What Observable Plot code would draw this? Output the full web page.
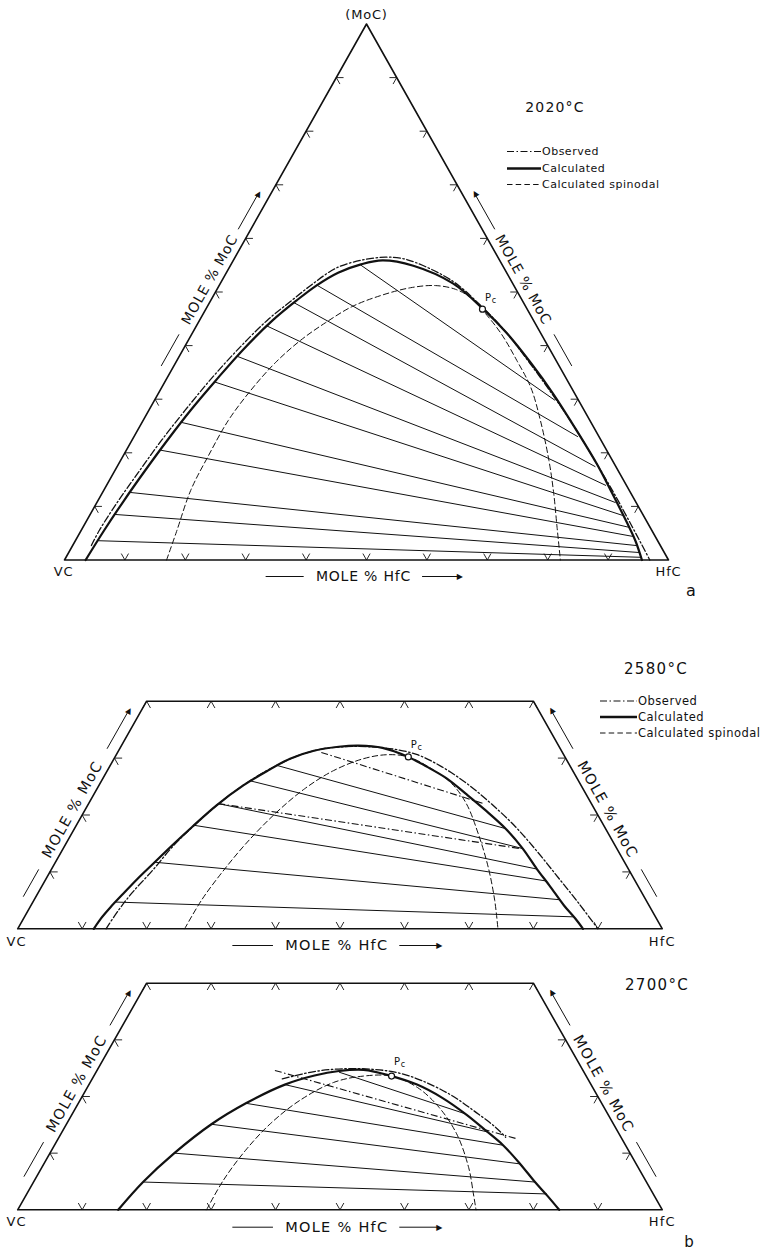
<!DOCTYPE html>
<html><head><meta charset="utf-8">
<script src="https://cdn.jsdelivr.net/npm/d3@7"></script>
<script src="https://cdn.jsdelivr.net/npm/@observablehq/plot@0.6"></script>
<style>
body{margin:0;background:#fff;}
#page{position:relative;width:765px;height:1254px;overflow:hidden;font-family:"DejaVu Sans",sans-serif;color:#111;background:#fff;}
.panel{position:absolute;left:0;}
.t{position:absolute;white-space:nowrap;transform:translate(-50%,-50%);}
.lg{position:absolute;white-space:nowrap;transform:translateY(-50%);display:flex;align-items:center;font-size:11px;letter-spacing:0.5px;}
.lg svg{display:block;margin-right:1px;}
</style></head><body><div id="page"></div>
<script>
// ---------- DATA: compositions as [mole % HfC, mole % MoC] ----------
// 2020 °C
const calc2020 = [[3.5,0],[3.8,5.5],[4.3,11.1],[5.0,16.7],[5.85,22.3],[6.9,27.9],[8.3,33.5],[9.9,39.1],[12.1,44.7],[14.2,48.4],[16.1,51.2],[18.5,53.6],[21.4,55.1],[24.7,55.9],[30.3,54.9],[38.5,51.6],[45.8,46.9],[52.1,42.3],[58.9,36.7],[65.3,31.1],[71.3,25.5],[79.1,18.0],[84.5,12.4],[89.8,6.8],[92.8,3.5],[95.6,0]];
const obs2020 = [[3.1,2.7],[3.0,5.5],[3.4,11.1],[4.1,16.7],[4.9,22.3],[6.0,27.9],[7.3,33.5],[9.0,39.1],[11.2,44.7],[13.4,48.4],[15.4,51.6],[17.8,54.5],[21.4,56.0],[24.9,56.5],[27.5,56.3],[30.4,55.5],[38.3,52.0],[45.7,47.1],[52.1,42.3],[58.7,36.7],[65.1,31.1],[71.5,25.3],[79.1,18.0],[85.0,12.2],[90.7,6.4],[94.3,2.7],[96.9,0]];
const spin2020 = [[16.9,0],[15.9,5.3],[14.4,13.0],[14.1,19.5],[14.1,26.0],[15.0,31.6],[16.5,36.8],[18.6,41.0],[21.1,44.3],[24.0,47.3],[27.6,49.3],[31.9,50.8],[35.8,51.2],[39.5,50.5],[42.7,49.0],[45.8,46.7],[51.1,42.3],[56.3,37.2],[61.1,32.2],[65.8,26.0],[70.9,18.6],[74.8,12.4],[78.5,6.1],[82.1,0]];
const tieL2020 = [[21.4,55.1],[16.1,51.3],[14.0,48.0],[11.6,43.7],[9.6,38.0],[8.3,33.2],[6.4,25.7],[5.6,20.5],[4.6,12.6],[4.1,8.5],[3.8,3.6]];
const tieR2020 = [[66.3,29.8],[73.5,23.0],[79.2,17.4],[82.7,13.9],[85.9,10.7],[88.3,8.3],[90.4,6.1],[91.9,4.4],[93.3,2.7],[94.4,1.4],[95.3,0.5]];
const pc2020 = [45.8,46.8];

// 2580 °C
const calc2580 = [[11.8,0],[12.0,1.8],[12.5,3.8],[13.3,6.2],[14.2,8.8],[15.4,11.7],[16.6,14.6],[18.1,17.9],[20.0,21.7],[22.4,25.2],[24.9,27.8],[27.3,29.9],[30.3,31.3],[33.8,32.0],[36.8,32.2],[40.7,31.8],[45.5,30.2],[49.2,28.5],[53.4,26.4],[57.7,23.7],[62.2,20.8],[66.9,17.6],[71.3,14.1],[75.3,10.5],[78.7,7.6],[82.7,4.1],[85.6,1.8],[87.7,0]];
const obs2580 = [[13.7,0],[14.0,3.2],[14.6,6.4],[15.8,10.3],[16.8,14.4],[18.3,18.2],[20.2,22.0],[22.6,25.5],[25.1,28.1],[27.9,30.2],[31.0,31.5],[34.6,32.0],[38.4,32.0],[42.4,31.6],[46.7,30.6],[51.5,28.5],[56.8,25.6],[62.3,22.1],[68.3,17.9],[73.9,13.5],[79.6,8.8],[84.9,4.4],[90.0,0]];
const spin2580 = [[25.9,0],[26.0,5.0],[26.7,9.7],[27.9,14.9],[29.8,20.2],[32.2,24.6],[35.1,27.8],[38.7,29.9],[42.1,30.6],[45.5,30.2],[50.2,28.1],[54.6,25.5],[58.6,22.0],[63.1,16.7],[67.6,10.8],[71.5,5.0],[74.5,0]];
const tieL2580 = [[25.9,28.7],[23.1,26.0],[20.1,22.0],[18.2,18.2],[15.4,11.7],[12.8,4.7]];
const tieR2580 = [[66.9,17.6],[71.3,14.1],[75.3,10.5],[77.8,8.4],[81.6,5.1],[85.2,2.1]];
const obsTieL2580 = [[31.6,31.0],[20.1,22.0]];
const obsTieR2580 = [[61.3,22.0],[70.9,14.1]];
const pc2580 = [45.5,30.2];

// 2700 °C
const calc2700 = [[15.6,0],[17.0,4.9],[19.3,10.0],[22.5,15.1],[26.0,18.8],[30.4,22.1],[34.2,23.7],[37.6,24.5],[41.3,24.7],[46.2,23.6],[50.9,22.1],[55.9,19.8],[61.2,16.8],[65.6,14.0],[69.6,11.4],[73.9,8.1],[77.8,4.9],[80.9,2.5],[84.0,0]];
const obs2700 = [[29.5,23.1],[33.8,24.4],[38.1,24.9],[42.7,24.8],[46.8,24.2],[51.3,22.8],[57.2,20.2],[62.5,17.2],[66.8,14.6],[69.3,12.8]];
const spin2700 = [[29.3,0],[29.3,5.2],[30.1,10.5],[31.6,15.2],[34.1,19.3],[37.8,22.5],[41.8,23.6],[46.2,23.6],[51.2,21.6],[56.3,18.1],[61.4,13.4],[66.2,7.5],[69.3,2.8],[71.1,0]];
const tieL2700 = [[37.7,24.3],[30.4,22.1],[26.0,18.8],[22.5,15.1],[19.3,10.0],[17.0,4.9]];
const tieR2700 = [[61.1,16.9],[66.2,13.7],[69.6,11.4],[73.9,8.1],[77.8,4.9],[80.7,2.8]];
const obsTieL2700 = [[27.6,24.6]];
const obsTieR2700 = [[71.3,12.5]];
const pc2700 = [46.2,23.6];

// frame corners and tick positions (mole %)
const triangleCorners = [[0,0],[100,0],[0,100],[0,0]];
const trapezoidCorners = [[0,0],[100,0],[60,40],[0,40],[0,0]];
const ticks10 = [10,20,30,40,50,60,70,80,90];
const ticksSide40 = [10,20,30];
const ticksTop40 = [0,10,20,30,40,50,60];

// ---------- helpers ----------
const cart = ([h, m]) => ({x: (h + m / 2) / 100, y: m / 100});
const D = 1.2; // tick arm (mole %)
function tickLinks(bottom, left, right, top) {
  const out = [];
  const add = (a, b) => { const p = cart(a), q = cart(b); out.push({x1:p.x, y1:p.y, x2:q.x, y2:q.y}); };
  for (const t of bottom) { add([t,0],[t,D]); add([t,0],[t-D,D]); }
  for (const t of left) { add([0,t],[D,t]); add([0,t],[D,t-D]); }
  for (const t of right) { add([100-t,t],[100-t-D,t]); add([100-t,t],[100-t,t-D]); }
  for (const h of top || []) { add([h,40],[h,40-D]); add([h,40],[h+D,40-D]); }
  return out;
}
const pairs = (L, R) => L.map((a, i) => { const p = cart(a), q = cart(R[i]); return {x1:p.x, y1:p.y, x2:q.x, y2:q.y}; });
const edgePt = (side, s) => side === "L" ? {x: s/2, y: s} : {x: 1 - s/2, y: s};
const ANG = 60.8;
const nL = [-Math.cos((90-ANG)*Math.PI/180), -Math.sin((90-ANG)*Math.PI/180)];
const nR = [-nL[0], nL[1]];

const DASHDOT = "7,2.5,1.5,2.5";
const DASH = "5.5,3.2";

function sideLabel(side, lab) {
  const n = side === "L" ? nL : nR;
  const dx = lab.off * n[0], dy = lab.off * n[1];
  const links = [[lab.tail, lab.l1], [lab.l2, lab.head]].map(([a, b]) => {
    const p = edgePt(side, a), q = edgePt(side, b);
    return {x1:p.x, y1:p.y, x2:q.x, y2:q.y};
  });
  const rot = side === "L" ? -ANG : ANG;
  return [
    Plot.link(links, {x1:"x1", y1:"y1", x2:"x2", y2:"y2", stroke:"#111", strokeWidth:1, dx, dy}),
    Plot.text([edgePt(side, lab.tc)], {x:"x", y:"y", text: () => "MOLE % MoC", rotate: rot, fontSize: lab.fs, fill:"#111", dx, dy}),
    Plot.text([edgePt(side, lab.head)], {x:"x", y:"y", text: () => "\u25B6", rotate: side === "L" ? -ANG : -(180-ANG), fontSize: 8, fill:"#111", dx, dy})
  ];
}
function bottomLabel(off, fs) {
  return [
    Plot.link([{x1:0.333, x2:0.396}, {x1:0.592, x2:0.652}], {x1:"x1", x2:"x2", y1:() => 0, y2:() => 0, stroke:"#111", strokeWidth:1, dy: off}),
    Plot.text([{x:0.495, y:0}], {x:"x", y:"y", text:() => "MOLE % HfC", fontSize: fs, fill:"#111", dy: off}),
    Plot.text([{x:0.655, y:0}], {x:"x", y:"y", text:() => "\u25B6", fontSize: 8, fill:"#111", dy: off})
  ];
}

function panel(cfg) {
  const marks = [
    Plot.line(cfg.corners.map(cart), {x:"x", y:"y", stroke:"#111", strokeWidth:1.6}),
    Plot.link(cfg.ticks, {x1:"x1", y1:"y1", x2:"x2", y2:"y2", stroke:"#111", strokeWidth:0.9}),
    Plot.line(cfg.spin.map(cart), {x:"x", y:"y", curve:"catmull-rom", stroke:"#111", strokeWidth:1, strokeDasharray: DASH}),
    Plot.link(pairs(cfg.tieL, cfg.tieR), {x1:"x1", y1:"y1", x2:"x2", y2:"y2", stroke:"#111", strokeWidth:1})
  ];
  if (cfg.obsTieL) marks.push(Plot.link(pairs(cfg.obsTieL, cfg.obsTieR), {x1:"x1", y1:"y1", x2:"x2", y2:"y2", stroke:"#111", strokeWidth:1.1, strokeDasharray: DASHDOT}));
  marks.push(
    Plot.line(cfg.obs.map(cart), {x:"x", y:"y", curve:"catmull-rom", stroke:"#111", strokeWidth:1.3, strokeDasharray: DASHDOT}),
    Plot.line(cfg.calc.map(cart), {x:"x", y:"y", curve:"catmull-rom", stroke:"#111", strokeWidth:2.2}),
    Plot.dot([cart(cfg.pc)], {x:"x", y:"y", r:3, fill:"white", stroke:"#111", strokeWidth:1.2}),
    Plot.text([cart(cfg.pc)], {x:"x", y:"y", text:() => "P", fontSize:10, fill:"#111", dx: cfg.pcOff[0], dy: cfg.pcOff[1]}),
    Plot.text([cart(cfg.pc)], {x:"x", y:"y", text:() => "c", fontSize:8, fill:"#111", dx: cfg.pcOff[0] + 6, dy: cfg.pcOff[1] + 2.5}),
    Plot.text([cart([0,0])], {x:"x", y:"y", text:() => "VC", fontSize:13, fill:"#111", dx:-1, dy: cfg.cornerDy}),
    Plot.text([cart([100,0])], {x:"x", y:"y", text:() => "HfC", fontSize:13, fill:"#111", dx:0, dy: cfg.cornerDy}),
    ...bottomLabel(cfg.bottomOff, cfg.lab.fs),
    ...sideLabel("L", cfg.lab),
    ...sideLabel("R", cfg.lab)
  );
  if (cfg.apex) marks.push(Plot.text([cart([0,100])], {x:"x", y:"y", text:() => "(MoC)", fontSize:13, fill:"#111", dy:-9.5}));
  const svg = Plot.plot({
    width: 765, height: cfg.height, margin: 0,
    x: {domain:[0,1], range: cfg.xr, axis: null},
    y: {domain: cfg.ydom, range: cfg.yr, axis: null},
    style: {background:"transparent", overflow:"visible", fontFamily:"DejaVu Sans, sans-serif"},
    marks
  });
  d3.select(svg).selectAll("text").style("letter-spacing", cfg.ls + "px");
  svg.classList.add("panel");
  svg.style.top = cfg.top + "px";
  return svg;
}

const page = document.getElementById("page");
page.appendChild(panel({
  top:0, height:620, xr:[64,668], yr:[559.5,23.5], ydom:[0,1], apex:true, ls:0.8,
  corners: triangleCorners, ticks: tickLinks(ticks10, ticks10, ticks10, null),
  calc: calc2020, obs: obs2020, spin: spin2020, tieL: tieL2020, tieR: tieR2020, pc: pc2020, pcOff:[6,-11],
  cornerDy: 12, bottomOff: 16.5,
  lab: {tail:0.352, l1:0.411, tc:0.513, l2:0.607, head:0.674, off:11, fs:14}
}));
page.appendChild(panel({
  top:640, height:330, xr:[17.2,661.8], yr:[288.3,60.7], ydom:[0,0.4], ls:1.3,
  corners: trapezoidCorners, ticks: tickLinks(ticks10, ticksSide40, ticksSide40, ticksTop40),
  calc: calc2580, obs: obs2580, spin: spin2580, tieL: tieL2580, tieR: tieR2580, obsTieL: obsTieL2580, obsTieR: obsTieR2580, pc: pc2580, pcOff:[6,-12],
  cornerDy: 13.4, bottomOff: 16.7,
  lab: {tail:0.047, l1:0.095, tc:0.2, l2:0.307, head:0.375, off:11, fs:14.5}
}));
page.appendChild(panel({
  top:970, height:284, xr:[17.2,661.8], yr:[239.3,12.7], ydom:[0,0.4], ls:1.3,
  corners: trapezoidCorners, ticks: tickLinks(ticks10, ticksSide40, ticksSide40, ticksTop40),
  calc: calc2700, obs: obs2700, spin: spin2700, tieL: tieL2700, tieR: tieR2700, obsTieL: obsTieL2700, obsTieR: obsTieR2700, pc: pc2700, pcOff:[6,-14],
  cornerDy: 12.4, bottomOff: 17.4,
  lab: {tail:0.049, l1:0.11, tc:0.213, l2:0.316, head:0.375, off:11, fs:14.5}
}));

// ---------- titles, legends, panel letters (HTML overlay) ----------
function addText(txt, x, y, size, spacing) {
  const el = document.createElement("div");
  el.className = "t"; el.textContent = txt;
  el.style.left = x + "px"; el.style.top = y + "px";
  el.style.fontSize = size + "px"; el.style.letterSpacing = (spacing || 0) + "px";
  page.appendChild(el);
}
addText("2020°C", 555, 107, 14, 1.2);
addText("2580°C", 656, 669, 15, 1.3);
addText("2700°C", 657, 985, 15, 1.3);
addText("a", 691, 590, 16, 0);
addText("b", 689, 1242, 15, 0);

const legendItems = [
  {label:"Observed", dash: DASHDOT, w: 1.2},
  {label:"Calculated", dash: null, w: 2.4},
  {label:"Calculated spinodal", dash: DASH, w: 1}
];
function addLegend(x, ys, lineW, fs) {
  legendItems.forEach((it, i) => {
    const row = document.createElement("div");
    row.className = "lg";
    row.style.left = x + "px"; row.style.top = ys[i] + "px"; row.style.fontSize = fs + "px";
    const s = d3.create("svg").attr("width", lineW).attr("height", 8);
    s.append("line").attr("x1", 0).attr("x2", lineW).attr("y1", 4).attr("y2", 4)
      .attr("stroke", "#111").attr("stroke-width", it.w).attr("stroke-dasharray", it.dash);
    row.appendChild(s.node());
    const sp = document.createElement("span"); sp.textContent = it.label; row.appendChild(sp);
    page.appendChild(row);
  });
}
addLegend(507, [151, 168, 184], 34, 11);
addLegend(600, [701, 717, 733], 37, 11.5);
</script></body></html>
